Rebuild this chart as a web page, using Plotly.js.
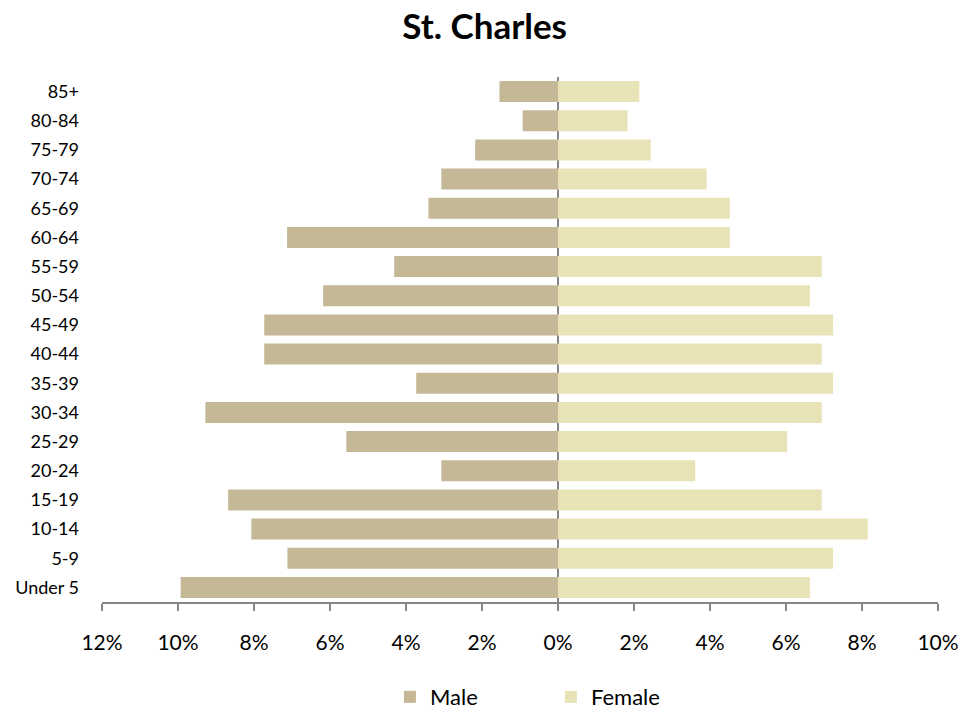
<!DOCTYPE html>
<html>
<head>
<meta charset="utf-8">
<script src="https://cdn.plot.ly/plotly-3.0.1.min.js"></script>
<style>html,body{margin:0;padding:0;background:#fff;}#chart{width:979px;height:713px;}</style>
</head>
<body>
<div id="chart"></div>
<script>
const ageGroups = ["Under 5","5-9","10-14","15-19","20-24","25-29","30-34","35-39","40-44","45-49","50-54","55-59","60-64","65-69","70-74","75-79","80-84","85+"];
const malePct =   [9.93, 7.12, 8.07, 8.68, 3.07, 5.57, 9.28, 3.73, 7.73, 7.73, 6.18, 4.31, 7.13, 3.41, 3.07, 2.18, 0.93, 1.54];
const femalePct = [6.63, 7.24, 8.15, 6.94, 3.61, 6.03, 6.94, 7.24, 6.94, 7.24, 6.63, 6.94, 4.52, 4.52, 3.91, 2.44, 1.83, 2.14];
const tickVals = [-12,-10,-8,-6,-4,-2,0,2,4,6,8,10];
const tickText = ["12%","10%","8%","6%","4%","2%","0%","2%","4%","6%","8%","10%"];

const font = "Lato, 'Open Sans', sans-serif";
const traces = [
  {type:'bar', orientation:'h', name:'Male', y:ageGroups, x:malePct.map(v=>-v),
   marker:{color:'#C4B896', line:{width:0}}},
  {type:'bar', orientation:'h', name:'Female', y:ageGroups, x:femalePct,
   marker:{color:'#E8E2B7', line:{width:0}}}
];
const layout = {
  width:979, height:713,
  margin:{l:102, r:41, t:77, b:111},
  paper_bgcolor:'#fff', plot_bgcolor:'#fff',
  title:{text:'<b>St. Charles</b>', font:{family:font, size:35, color:'#000'}, x:0.495, xanchor:'center', y:0.962, yanchor:'middle'},
  barmode:'relative', bargap:0.28,
  font:{family:font, size:18, color:'#000'},
  xaxis:{range:[-12,10], tickvals:tickVals, ticktext:tickText, showgrid:false,
    zeroline:true, zerolinecolor:'#868686', zerolinewidth:2, layer:'above traces',
    showline:true, linecolor:'#868686', linewidth:2,
    ticks:'outside', ticklen:7, tickwidth:1.5, tickcolor:'#868686', ticklabelstandoff:14,
    tickfont:{family:font, size:21}, fixedrange:true},
  yaxis:{type:'category', categoryorder:'array', categoryarray:ageGroups, showgrid:false, zeroline:false,
    showline:false, ticks:'', ticklabelstandoff:22, tickfont:{family:font, size:18}, fixedrange:true},
  legend:{orientation:'h', x:0.537, xanchor:'center', yref:'container', y:0.0224, yanchor:'middle', font:{family:font, size:22}, itemwidth:30, tracegroupgap:0, entrywidth:116},
  showlegend:true
};
Plotly.newPlot('chart', traces, layout, {displayModeBar:false, staticPlot:true});
</script>
</body>
</html>
